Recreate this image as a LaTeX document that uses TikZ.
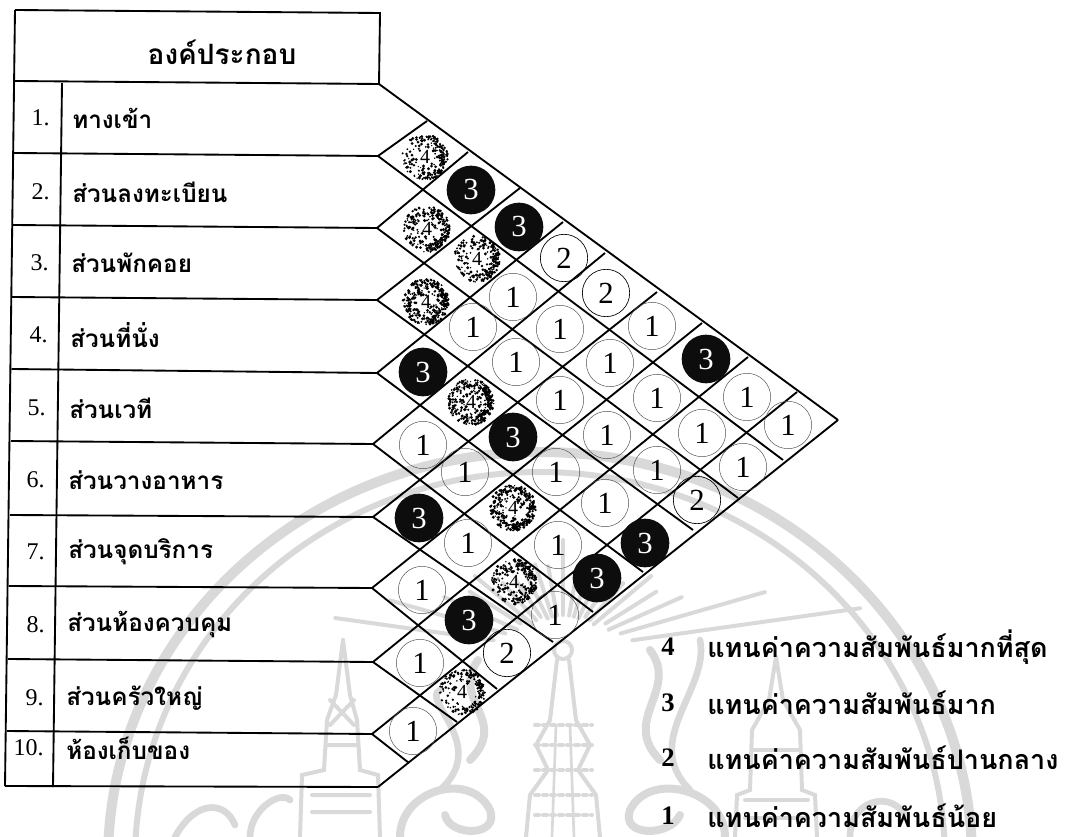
\documentclass[tikz,border=0pt]{standalone}
\usepackage{fontspec}
\usepackage{graphicx}
\setmainfont{Liberation Serif}
\newfontfamily\thaifont[Script=Thai]{Loma}
\definecolor{wm}{HTML}{D9D9D9}
\tikzset{
  gridline/.style={line width=1.4pt,black},
  wmline/.style={line width=#1,draw=wm,line cap=round},
  onecirc/.style={circle,draw=black!70,line width=0.35pt,minimum size=35.5pt,inner sep=0pt,font=\fontsize{23}{23}\selectfont,text=black},
  twocirc/.style={circle,draw=black,line width=0.5pt,minimum size=35.5pt,inner sep=0pt,font=\fontsize{23}{23}\selectfont,text=black},
  blackcirc/.style={circle,fill=black!95,minimum size=36.5pt,inner sep=0pt,font=\fontsize{23}{23}\selectfont,text=white},
  mottcirc/.style={circle,minimum size=32pt,inner sep=0pt,font=\fontsize{15}{15}\selectfont,text=black},
  numlabel/.style={anchor=east,inner sep=0pt,font=\fontsize{18}{18}\selectfont},
  rowlabel/.style={anchor=west,inner sep=0pt,font=\thaifont\bfseries\fontsize{18.2}{18.2}\selectfont},
  legnum/.style={anchor=center,inner sep=0pt,font=\bfseries\fontsize{20}{20}\selectfont},
  legtext/.style={anchor=west,inner sep=0pt,font=\thaifont\bfseries\fontsize{20.2}{20.2}\selectfont}
}
\newcommand{\mottled}[3]{%
  \foreach \ii in {1,...,#3}{%
    \pgfmathsetmacro\angv{rnd*360}%
    \pgfmathsetmacro\radv{6+17*sqrt(rnd)}%
    \pgfmathsetmacro\sizv{0.7+rnd*1.0}%
    \fill[black] (#1,#2) ++(\angv:\radv) circle[radius=\sizv];
  }%
  \foreach \ii in {1,...,90}{%
    \pgfmathsetmacro\angv{-80+rnd*170}%
    \pgfmathsetmacro\radv{16+rnd*7}%
    \fill[black] (#1,#2) ++(\angv:\radv) circle[radius=1.2];
  }%
}
\begin{document}
\begin{tikzpicture}[x=0.75pt,y=-0.75pt]
\useasboundingbox (0,0) rectangle (1066,837);
\pgfmathsetseed{7}
% watermark
\begin{scope}
\clip (0,0) rectangle (1066,837);
\fill[wm,even odd rule] (540,860) ellipse [x radius=437,y radius=413] (540,860) ellipse [x radius=427,y radius=403];
\fill[wm,even odd rule] (540,860) ellipse [x radius=408,y radius=391] (540,860) ellipse [x radius=402,y radius=385];
\foreach \ang/\ra/\rb in {8/70/230,16/60/180,24/50/130,32/50/110,40/40/115,48/40/90,56/40/85,64/35/100,72/35/90,80/35/85,90/35/110,100/35/85,108/35/90,116/35/100,124/40/85,132/40/90,140/40/115,148/50/110,156/50/130,164/60/210,172/70/300}{
  \draw[wmline=3pt] (563,650) ++(\ang:-\ra) -- ++(\ang:-\rb+\ra);
}
% central spire
\draw[wmline=3pt] (563,650) circle[radius=9];
\draw[wmline=3pt] (557,660) -- (550,720) -- (536,745) -- (548,770) -- (530,795) -- (526,837);
\draw[wmline=3pt] (569,660) -- (576,720) -- (590,745) -- (578,770) -- (596,795) -- (600,837);
\foreach \yy in {725,745,770,795,815}{\draw[wmline=3pt,dashed] (535,\yy) -- (592,\yy);}
\draw[wmline=2pt] (556,725) -- (552,837) (570,725) -- (574,837);
% side towers
\draw[wmline=3pt] (343,640) -- (350,695) -- (357,720) -- (360,770) -- (378,775) -- (380,837);
\draw[wmline=3pt] (343,640) -- (336,695) -- (327,720) -- (324,770) -- (302,775) -- (300,837);
\draw[wmline=3pt] (312,795) -- (370,795) (312,812) -- (370,812) (326,745) -- (358,745) (330,700) -- (354,725) (354,700) -- (330,725);
\draw[wmline=3pt] (776,657) -- (783,700) -- (800,730) -- (802,790) -- (815,795) -- (817,837);
\draw[wmline=3pt] (776,657) -- (769,700) -- (752,730) -- (750,790) -- (737,795) -- (735,837);
\draw[wmline=3pt] (745,800) -- (808,800) (745,818) -- (808,818) (752,750) -- (800,750);
% flames and scrolls
\draw[wmline=6pt] (660,760) .. controls (620,720) and (680,690) .. (650,650);
\draw[wmline=5pt] (690,790) .. controls (640,740) and (710,690) .. (700,640);
\draw[wmline=6pt] (470,760) .. controls (510,720) and (450,700) .. (478,660);
\draw[wmline=5pt] (440,790) .. controls (490,745) and (420,700) .. (440,690);
\draw[wmline=6pt] (400,837) .. controls (400,790) and (470,770) .. (490,810) .. controls (500,837) and (450,837) .. (445,815);
\draw[wmline=6pt] (725,837) .. controls (725,790) and (650,770) .. (630,810) .. controls (620,837) and (670,837) .. (680,815);
\draw[wmline=5pt] (175,837) .. controls (195,800) and (225,800) .. (235,825);
\draw[wmline=5pt] (250,837) .. controls (250,810) and (280,790) .. (290,800);
\draw[wmline=5pt] (850,837) .. controls (850,800) and (890,790) .. (905,815);
\end{scope}
% table outline
\coordinate (TL) at (15,10);
\coordinate (TR) at (380,13);
\coordinate (BL) at (5,786);
\coordinate (DT) at (62,83);
\coordinate (DB) at (53,787);
% left tips and row starts
\foreach \nm/\xa/\ya/\xb/\yb in {0/15/81/379/84,1/14/153/378/156,2/13/225/377/228,3/12/297/377/300,4/11.5/369/377/373,5/11/441/373/444,6/10/515/373/517,7/9/586/372/588,8/8/659/373/662,9/7/731/372/734,10/5/786/378/787}{
  \coordinate (S\nm) at (\xa,\ya);
  \coordinate (T\nm) at (\xb,\yb);
  \draw[gridline] (S\nm) -- (T\nm);
}
\draw[gridline] (TL) -- (TR) -- (T0);
\draw[gridline] (TL) -- (BL);
\draw[gridline] (DT) -- (DB);
% top edge
\foreach \nm/\xa/\ya in {1/427/121,2/468/152,3/520/188,4/563/222,5/605/253,6/657/292,7/702/323,8/748/357,9/797/392,10/838/420}{
  \coordinate (U\nm) at (\xa,\ya);
}
% bottom edge
\foreach \nm/\xa/\ya in {0/838/420,1/783/460,2/738/498,3/693/530,4/643/572,5/593/612,6/553/642,7/497/689,8/457/722,9/409/763}{
  \coordinate (L\nm) at (\xa,\ya);
}
\draw[gridline] (T0) -- (U10);
\draw[gridline] (T10) -- (U10);
\foreach \nm in {1,...,9}{
  \draw[gridline] (T\nm) -- (L\nm);
  \draw[gridline] (T\nm) -- (U\nm);
}
% header and rows
\node[inner sep=0pt,font=\thaifont\bfseries\fontsize{21}{21}\selectfont] (head) at (222,52) {องค์ประกอบ};
\foreach \nm/\xn/\xt/\yy/\tx in {1/50/72/118/ทางเข้า,2/50/72/192/ส่วนลงทะเบียน,3/49/71/263/ส่วนพักคอย,4/48/70/335/ส่วนที่นั่ง,5/46/69/408/ส่วนเวที,6/45/68/480/ส่วนวางอาหาร,7/45/68/552/ส่วนจุดบริการ,8/45/67/625/ส่วนห้องควบคุม,9/44/66/698/ส่วนครัวใหญ่,10/44/66/748/ห้องเก็บของ}{
  \node[numlabel] (n\nm) at (\xn,\yy) {\nm.};
  \node[rowlabel] (r\nm) at (\xt,\yy) {\tx};
}
% mottled dots
\foreach \xx/\yy/\cnt in {425/157/130,427/229/170,477/259/150,426/302/240,471/402/260,513/508/260,514/582/170,462/692/110}{
  \mottled{\xx}{\yy}{\cnt}
}
% value circles
\foreach \nm/\xx/\yy in {a1/425/157,a2/427/229,a3/477/259,a4/426/302,a5/471/402,a6/513/508,a7/514/582,a8/462/692}{
  \node[mottcirc] (m\nm) at (\xx,\yy) {4};
}
\foreach \nm/\xx/\yy in {b1/471/190,b2/519/227,b3/706/359,b4/423/372,b5/513/437,b6/645/543,b7/597/578,b8/419/518,b9/469/620}{
  \node[blackcirc] (k\nm) at (\xx,\yy) {3};
}
\foreach \nm/\xx/\yy in {c1/564/258,c2/606/293,c3/697/500,c4/507/653}{
  \node[twocirc] (t\nm) at (\xx,\yy) {2};
}
\foreach \nm/\xx/\yy in {d1/652/326,d2/747/397,d3/788/425,d4/513/297,d5/560/329,d6/610/363,d7/657/398,d8/702/433,d9/743/467,d10/473/327,d11/516/362,d12/560/400,d13/607/435,d14/657/470,d15/556/472,d16/605/503,d17/423/445,d18/465/472,d19/558/545,d20/468/543,d21/555/615,d22/422/590,d23/420/663,d24/413/731}{
  \node[onecirc] (o\nm) at (\xx,\yy) {1};
}
% legend
\foreach \nm/\yy/\tx in {4/647/แทนค่าความสัมพันธ์มากที่สุด,3/703/แทนค่าความสัมพันธ์มาก,2/758/แทนค่าความสัมพันธ์ปานกลาง,1/816/แทนค่าความสัมพันธ์น้อย}{
  \node[legnum] (ln\nm) at (668,\yy) {\nm};
  \node[legtext] (lt\nm) at (707,\yy) {\tx};
}
\end{tikzpicture}
\end{document}
